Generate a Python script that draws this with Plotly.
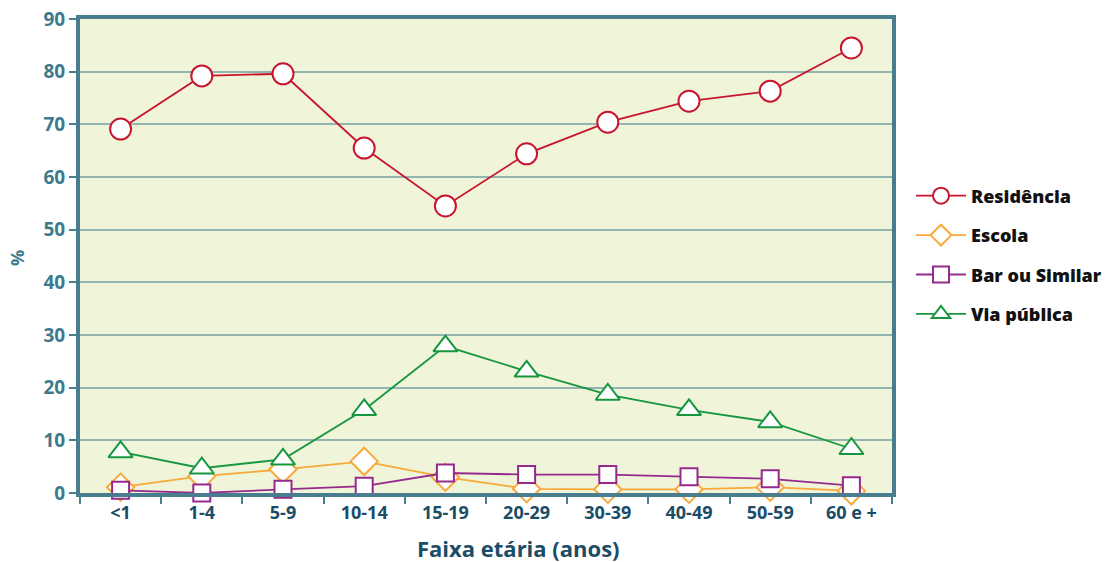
import plotly.graph_objects as go

categorias = ["<1", "1-4", "5-9", "10-14", "15-19", "20-29", "30-39", "40-49", "50-59", "60 e +"]
residencia = [69.1, 79.2, 79.6, 65.5, 54.5, 64.4, 70.4, 74.4, 76.3, 84.5]
escola = [1.1, 3.2, 4.5, 6.0, 3.0, 0.8, 0.7, 0.7, 1.1, 0.4]
bar_similar = [0.5, 0.0, 0.7, 1.3, 3.8, 3.5, 3.5, 3.1, 2.7, 1.4]
via_publica = [7.8, 4.7, 6.4, 15.8, 27.9, 23.1, 18.7, 15.8, 13.5, 8.4]
y_ticks = [0, 10, 20, 30, 40, 50, 60, 70, 80, 90]

series = [
    ("Residência", residencia, "#c8152f", "circle", 21),
    ("Escola", escola, "#f8a93a", "diamond", 21),
    ("Bar ou Similar", bar_similar, "#952a8e", "square", 17),
    ("Via pública", via_publica, "#16963f", "triangle-up", 21),
]

fig = go.Figure()
for name, vals, color, sym, size in series:
    fig.add_trace(go.Scatter(
        x=categorias, y=vals, name=name, mode="lines+markers",
        legendgroup=name,
        line=dict(color=color, width=1.8),
        marker=dict(symbol=sym, size=size, color="white",
                    line=dict(color=color, width=2)),
        cliponaxis=False,
    ))

axis_color = "#477d8f"
L, R, T, B = 80, 892, 19, 493
W, H = 1106, 562
fig.update_layout(
    width=W, height=H,
    margin=dict(l=L, r=W - R, t=T, b=H - B),
    paper_bgcolor="white",
    plot_bgcolor="#f0f4d8",
    font=dict(family="Open Sans", color="#3d7a8e"),
    showlegend=True,
    legend=dict(
        xref="container", yref="container",
        x=911 / W, xanchor="left", y=1 - 255 / H, yanchor="middle",
        font=dict(family="Open Sans", size=18, color="#111111", weight=800),
        tracegroupgap=13, itemwidth=50,
        bgcolor="rgba(0,0,0,0)",
    ),
    xaxis=dict(
        type="category", range=[-0.5, 9.5], automargin=False,
        showline=True, linecolor=axis_color, linewidth=4, mirror=True,
        ticks="outside", tickson="boundaries", ticklen=7, tickwidth=2, tickcolor=axis_color,
        showgrid=False,
        tickfont=dict(family="Open Sans", size=18, color="#1b4d66", weight="bold"),
    ),
    yaxis=dict(
        range=[0, 90], tickvals=y_ticks, automargin=False,
        showline=True, linecolor=axis_color, linewidth=4, mirror=True,
        ticks="outside", ticklen=7, tickwidth=2, tickcolor=axis_color,
        showgrid=True, gridcolor="#93b5b2", gridwidth=2,
        zeroline=False,
        tickfont=dict(family="Open Sans", size=19, color="#3d7a8e", weight="bold"),
    ),
)

fig.add_annotation(
    text="Faixa etária (anos)", xref="paper", yref="paper",
    x=(518 - L) / (R - L), y=-(548 - B) / (B - T), xanchor="center", yanchor="middle",
    showarrow=False,
    font=dict(family="Open Sans", size=22, color="#1b4d66", weight="bold"),
)
fig.add_annotation(
    text="%", xref="paper", yref="paper",
    x=(17 - L) / (R - L), y=1 - (258 - T) / (B - T), xanchor="center", yanchor="middle",
    textangle=-90, showarrow=False,
    font=dict(family="Open Sans", size=18, color="#3d7a8e", weight="bold"),
)

fig.write_html(
    "out.html",
    config={"displayModeBar": False},
    post_script="document.body.style.margin='0';document.body.style.overflow='hidden';",
)
